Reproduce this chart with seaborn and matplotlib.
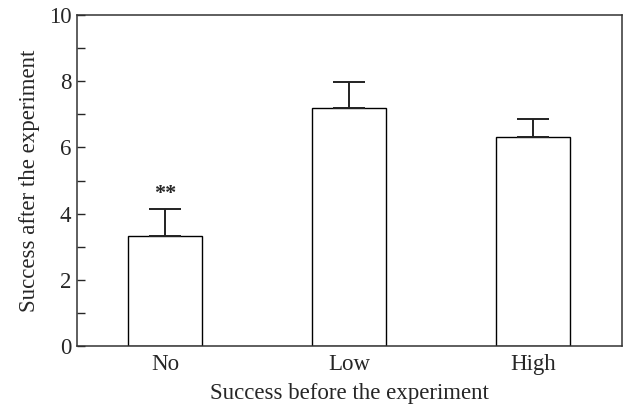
import numpy as np
import pandas as pd
import matplotlib
matplotlib.use('Agg')
import matplotlib.pyplot as plt
import seaborn as sns
from matplotlib.ticker import MultipleLocator

# values
categories = ['No', 'Low', 'High']
means = [3.33, 7.18, 6.31]
errors = [0.80, 0.81, 0.54]
significance = ['**', '', '']

sns.set_style('ticks')
plt.rcParams['font.family'] = ['Liberation Serif', 'DejaVu Serif']

df = pd.DataFrame(dict(category=categories, mean=means))

fig = plt.figure(figsize=(6.24, 4.07), dpi=100)
ax = fig.add_axes([77 / 624, 1 - 346 / 407, 545 / 624, 331 / 407])

sns.barplot(data=df, x='category', y='mean', order=categories, color='white',
            edgecolor='black', linewidth=1.0, width=0.4, errorbar=None, ax=ax)

# upper-only error bars
x = np.arange(len(categories))
ax.errorbar(x, means, yerr=[np.zeros(len(errors)), errors], fmt='none',
            ecolor='#222222', elinewidth=1.4, capsize=11.2, capthick=1.4, zorder=1)

for xi, m, e, s in zip(x, means, errors, significance):
    if s:
        ax.text(xi, m + e + 0.15, s, ha='center', va='bottom', fontsize=16,
                fontweight='bold')

ax.set_xlim(-0.478, 2.484)
ax.set_ylim(0, 10)
ax.yaxis.set_major_locator(MultipleLocator(2))
ax.yaxis.set_minor_locator(MultipleLocator(1))
ax.tick_params(axis='y', which='both', direction='in', length=6, width=1,
               labelsize=16.5, pad=4)
ax.tick_params(axis='x', length=0, labelsize=16.5, pad=6)
for side in ['left', 'right', 'top', 'bottom']:
    ax.spines[side].set_visible(True)
    ax.spines[side].set_color('#333333')
    ax.spines[side].set_linewidth(1.1)

ax.set_xlabel('Success before the experiment', fontsize=16.5, labelpad=5.5)
ax.set_ylabel('Success after the experiment', fontsize=16.5, labelpad=6)

fig.savefig('out.png', dpi=100)
